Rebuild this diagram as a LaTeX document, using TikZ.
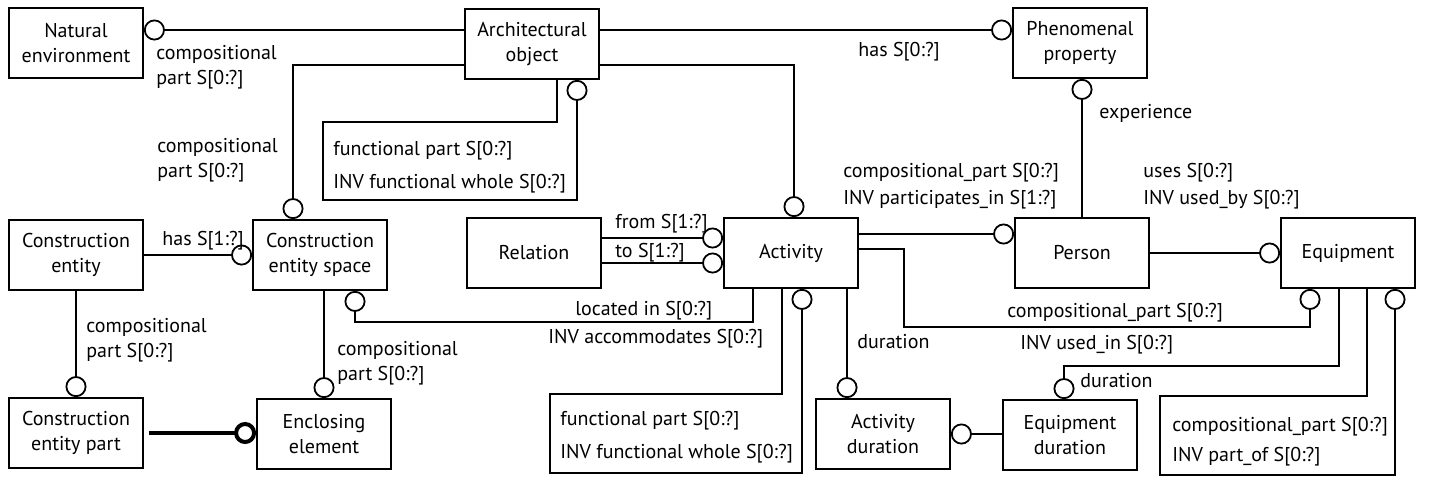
\documentclass[tikz,border=0pt]{standalone}
\usepackage{fontspec}
\setmainfont{PT Sans}
\usetikzlibrary{arrows.meta, calc}
\tikzset{
  block_font/.style = {font=\fontsize{10pt}{12.5pt}\selectfont},
  line_weight/.style = {line width=0.9pt}
}
\tikzset{
  entity/.style = {block_font, draw, line_weight, align=center, minimum width=67pt, minimum height=35pt, inner sep=1pt},
  role/.style = {block_font, inner sep=0, anchor=base west},
  role_block/.style = {block_font, inner sep=0, anchor=north west, align=left},
  link/.style = {line_weight},
  ring_end/.style = {link, -{Circle[open, length=10.5pt]}},
  ring_start/.style = {link, {Circle[open, length=10.5pt]}-},
  heavy_ring/.style = {line width=2pt, -{Circle[open, length=11pt]}}
}

\begin{document}
\begin{tikzpicture}[x=0.5pt, y=-0.5pt]
    \useasboundingbox (0,0) rectangle (1429,477);

    % Entities
    \node[entity] at (76,43) (nat_env) {Natural\\environment};
    \node[entity] at (532,44) (arch_obj) {Architectural\\object};
    \node[entity] at (1080,43) (phen_prop) {Phenomenal\\property};
    \node[entity] at (76,255) (con_ent) {Construction\\entity};
    \node[entity] at (320,255) (con_space) {Construction\\entity space};
    \node[entity] at (534,253) (relation) {Relation};
    \node[entity] at (791,253) (activity) {Activity};
    \node[entity] at (1082,253) (person) {Person};
    \node[entity] at (1348,253) (equipment) {Equipment};
    \node[entity] at (76,433) (con_part) {Construction\\entity part};
    \node[entity] at (324,434) (enclosing) {Enclosing\\element};
    \node[entity] at (883,434) (act_dur) {Activity\\duration};
    \node[entity] at (1070,435) (equ_dur) {Equipment\\duration};

    % Connectors
    \draw[ring_end] ([yshift=7pt]arch_obj.west) -- ([yshift=7pt]arch_obj.west -| nat_env.east);
    \draw[ring_end] ([yshift=-10.5pt]arch_obj.west) -| ([xshift=-13.5pt]con_space.north);
    \draw[ring_end] ([yshift=7pt]arch_obj.east) -- ([yshift=7pt]arch_obj.east -| phen_prop.west);
    \draw[ring_end] ([yshift=-10.5pt]arch_obj.east) -| ([xshift=1.5pt]activity.north);
    \draw[ring_end] ([xshift=12.5pt]arch_obj.south) |- (323,122) |- (577,200) -- ([xshift=22.5pt]arch_obj.south);

    \draw[ring_end] (con_ent.east) -- (con_space.west);
    \draw[ring_end] (con_ent.south) -- (con_part.north);
    \draw[heavy_ring] ([xshift=2.5pt]con_part.east) -- (con_part.east -| enclosing.west);
    \draw[ring_end] (enclosing.north |- con_space.south) -- (enclosing.north);

    \draw[ring_end] ([yshift=7.5pt]relation.east) -- ([yshift=7.5pt]relation.east -| activity.west);
    \draw[ring_end] ([yshift=-5pt]relation.east) -- ([yshift=-5pt]relation.east -| activity.west);

    \draw[ring_end] ([xshift=-19pt]activity.south) |- (355,322) -- ([xshift=17.5pt]con_space.south);
    \draw[ring_end] ([xshift=-4.5pt]activity.south) |- (550,394) |- (802,473) -- ([xshift=5.5pt]activity.south);
    \draw[ring_end] ([xshift=28pt]activity.south) -- ([xshift=28pt]activity.south |- act_dur.north);
    \draw[ring_end] ([yshift=9.5pt]activity.east) -- ([yshift=9.5pt]activity.east -| person.west);
    \draw[ring_end] ([yshift=2pt]activity.east) -| (904,327) -| ([xshift=-19pt]equipment.south);

    \draw[ring_start] (person.north |- phen_prop.south) -- (person.north);
    \draw[ring_end] (person.east) -- (person.east -| equipment.west);

    \draw[ring_end] ([xshift=-4.5pt]equipment.south) |- (1064,366) -- ([xshift=-3pt]equ_dur.north);
    \draw[ring_end] ([xshift=9.5pt]equipment.south) |- (1160,396) |- (1395,475) -- ([xshift=23.5pt]equipment.south);
    \draw[ring_start] (act_dur.east) -- (act_dur.east -| equ_dur.west);

    % Roles
    \node[role_block] at (156,45) (r_nat) {compositional\\part S[0:?]};
    \node[role_block] at (157,138) (r_space) {compositional\\part S[0:?]};
    \node[role] at (858,56) (r_phen) {has S[0:?]};
    \node[role_block] at (333,141) (r_arch_fn) {functional part S[0:?]\\[4pt]INV functional whole S[0:?]};
    \node[role] at (1099,118) (r_exp) {experience};
    \node[role_block] at (843,163) (r_person) {compositional\_part S[0:?]\\[1pt]INV participates\_in S[1:?]};
    \node[role_block] at (1143,163) (r_uses) {uses S[0:?]\\[1pt]INV used\_by S[0:?]};
    \node[role] at (162,245) (r_has) {has S[1:?]};
    \node[role] at (615,228) (r_from) {from S[1:?]};
    \node[role] at (615,257) (r_to) {to S[1:?]};
    \node[role_block] at (86,318) (r_part) {compositional\\part S[0:?]};
    \node[role_block] at (337,341) (r_encl) {compositional\\part S[0:?]};
    \node[role] at (575,315) (r_loc) {located in S[0:?]};
    \node[role] at (548,343) (r_acc) {INV accommodates S[0:?]};
    \node[role_block] at (560,411) (r_act_fn) {functional part S[0:?]\\[4pt]INV functional whole S[0:?]};
    \node[role] at (857,348) (r_act_dur) {duration};
    \node[role] at (1007,317) (r_equ) {compositional\_part S[0:?]};
    \node[role] at (1020,349) (r_used) {INV used\_in S[0:?]};
    \node[role] at (1080,387) (r_equ_dur) {duration};
    \node[role_block] at (1172,417) (r_equ_part) {compositional\_part S[0:?]\\[2.5pt]INV part\_of S[0:?]};
\end{tikzpicture}
\end{document}
